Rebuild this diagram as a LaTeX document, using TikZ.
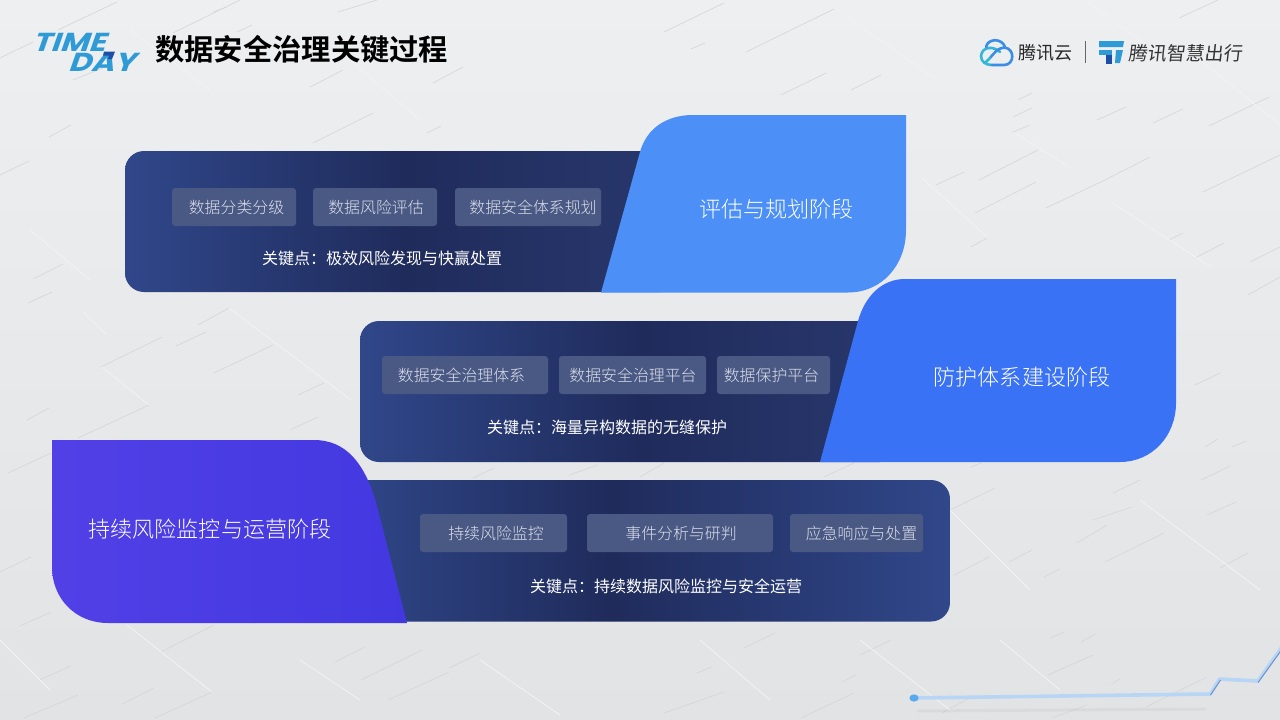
\documentclass[tikz,border=0pt]{standalone}
\usepackage{fontspec}
\usetikzlibrary{calc}
\newfontfamily\cjk{Noto Sans CJK SC}
\newfontfamily\cjkl{Noto Sans CJK SC Light}
\newfontfamily\cjkb{Noto Sans CJK SC Bold}
\newfontfamily\logofont[BoldFont=Poppins Bold]{Poppins}
\definecolor{bgtop}{HTML}{EDEFF1}
\definecolor{bgmid}{HTML}{E9EBED}
\definecolor{bgbot}{HTML}{E2E3E5}
\definecolor{edge}{HTML}{30478A}
\definecolor{deep}{HTML}{1F2B5B}
\definecolor{edgeb}{HTML}{28376C}
\definecolor{chip}{HTML}{4A5884}
\definecolor{chiptext}{HTML}{DDE1EC}
\definecolor{leafa}{HTML}{4B8FF7}
\definecolor{leafb}{HTML}{3A72F6}
\definecolor{leafcl}{HTML}{5140E6}
\definecolor{leafcr}{HTML}{4338E0}
\definecolor{logoblue}{HTML}{2F9BD6}
\definecolor{logodark}{HTML}{1D4FA8}
\definecolor{bgl}{HTML}{D3D5D8}
\definecolor{bgw}{HTML}{F2F3F5}
\definecolor{track}{HTML}{B7D5F5}
\definecolor{dotc}{HTML}{5AA8EE}
\definecolor{cloudt}{HTML}{35B5D8}
\definecolor{cloudb}{HTML}{3A8EE6}
\tikzset{
  x=1pt,y=-1pt,
  chipbox/.style={fill=chip,rounded corners=3pt,text=chiptext,font=\cjkl\fontsize{15.9}{18}\selectfont,anchor=center,inner sep=0pt},
  keytext/.style={text=white,font=\cjk\fontsize{16}{18}\selectfont,inner sep=0pt},
  stagetext/.style={text=white,font=\cjkl\fontsize{22.1}{24}\selectfont,inner sep=0pt},
  bgline/.style={bgl,line width=0.6pt},
  bgwhite/.style={bgw,line width=0.8pt},
  logotext/.style={inner sep=0pt,anchor=north west,align=left,text=logoblue,font=\logofont\bfseries\fontsize{26}{20}\selectfont,xslant=0.35,xscale=1.2},
}
% name, centre x, centre y, width, height, text shift, text
\newcommand{\chipnode}[7]{\node[chipbox,minimum width=#4 pt,minimum height=#5 pt] (#1) at (#2,#3) {\hspace*{#6pt}#7};}
\begin{document}
\begin{tikzpicture}
\useasboundingbox (0,0) rectangle (1280,720);
\shade[top color=bgtop,middle color=bgmid,bottom color=bgbot] (0,0) rectangle (1280,720);
% background tracery
\foreach \a/\b/\c/\d in {
 49/137/71/125, 0/175/29/161, 313/143/373/113, 427/133/441/126, 101/367/162/337, 176/346/206/332,
 33/279/63/264, 28/303/52/292, 214/373/273/345, 290/430/318/417, 298/395/324/383, 27/420/49/408,
 78/438/149/405, 198/325/229/308,
 664/32/724/3, 746/52/834/9, 691/49/705/43, 781/95/826/73, 851/90/881/75, 1179/18/1218/0,
 979/180/1038/150, 975/213/1036/182, 1046/208/1105/180, 1105/180/1150/157, 1097/120/1126/107,
 1153/123/1183/109, 1209/126/1269/97, 1195/258/1224/243, 1169/240/1183/233, 1248/295/1280/277,
 1203/192/1280/155, 936/185/964/172, 971/247/987/238, 1018/100/1032/93, 1013/117/1032/108,
 1013/132/1030/125, 1250/262/1280/247,
 950/510/995/488, 1113/493/1140/480, 1093/520/1132/507, 1077/543/1107/525, 1105/562/1164/533,
 1201/480/1230/466, 1205/447/1218/439, 1232/447/1246/441, 1207/515/1236/502, 1220/568/1248/553,
 1195/385/1220/373, 954/575/989/557, 1009/562/1032/550, 1044/577/1060/569, 1081/642/1095/634,
 1050/638/1064/632, 1111/684/1120/679, 1048/675/1093/655, 860/655/891/640, 744/648/775/633,
 842/682/856/675, 697/673/711/667, 664/713/724/692, 801/718/854/693, 942/713/971/697,
 1052/718/1087/705, 1146/707/1207/677, 824/477/854/463, 640/477/664/463, 971/467/981/463,
 8/473/51/453, 20/626/51/612, 161/652/214/625, 335/662/365/647, 361/680/422/650, 449/668/480/653,
 122/704/154/688, 155/718/212/692, 39/680/71/666, 24/718/78/695, 388/700/449/672, 0/572/31/557,
 569/475/598/465, 473/478/494/468,
 0/58/33/42, 58/30/117/2, 173/33/240/0, 213/12/227/7, 237/32/252/25, 310/87/343/70, 433/83/463/67,
 73/80/110/65, 338/12/377/0}{
 \draw[bgline] (\a,\b) -- (\c,\d);
}
\foreach \a/\b/\c/\d in {
 102/367/149/405, 229/308/351/400, 84/313/106/334, 836/9/934/78, 1111/202/1211/267, 922/178/987/237,
 1085/0/1171/63, 1015/133/1069/167, 127/625/212/692, 1140/500/1260/590, 950/510/1030/590,
 1000/640/1060/690, 300/660/360/700, 480/660/560/715, 1200/60/1280/125,
 130/30/210/90, 350/60/420/120, 30/230/90/280, 0/640/50/690, 700/640/770/700, 860/640/950/710}{
 \draw[bgwhite] (\a,\b) -- (\c,\d);
}
% progress line
\coordinate (ps) at (914,698);
\coordinate (p1) at (1210.5,694);
\coordinate (p2) at (1219.5,679);
\coordinate (p3) at (1258,681);
\coordinate (p4) at (1282,647);
\draw[line width=3pt,black,opacity=.035,line cap=round] (918,711) -- (1205,709);
\draw[line width=3.6pt,track,line join=bevel] (ps) -- (p1) -- (p2) -- (p3) -- (p4);
\draw[line width=.9pt,logodark!65!white] ($(p1)+(0,1)$) -- ($(p2)+(1,1)$) ($(p3)+(0,1.5)$) -- ($(p4)+(0.5,1.5)$);
\fill[dotc] (ps) ellipse (4.6pt and 3.6pt);
% panels
\begin{scope}
 \clip[rounded corners=19pt] (125,151) rectangle (700,292);
 \shade[left color=edge,right color=deep] (125,151) rectangle (405,292);
 \shade[left color=deep,right color=edgeb] (405,151) rectangle (660,292);
\end{scope}
\begin{scope}
 \clip[rounded corners=19pt] (360,321) rectangle (900,462);
 \shade[left color=edge,right color=deep] (360,321) rectangle (640,462);
 \shade[left color=deep,right color=edgeb] (640,321) rectangle (880,462);
\end{scope}
\begin{scope}
 \clip[rounded corners=19pt] (320,480) rectangle (950,621.5);
 \shade[left color=edge,right color=deep] (340,480) rectangle (610,622);
 \shade[left color=deep,right color=edge] (610,480) rectangle (950,622);
\end{scope}
% leaves
\fill[leafa] (906,115) -- (693,115) .. controls (668,115) and (647,127) .. (640,152) -- (601,292.5) -- (848,292.5) .. controls (882,292.5) and (906,265) .. (906,230) -- cycle;
\fill[leafb] (1176,279) -- (905,279) .. controls (882,279) and (865,296) .. (858,321) -- (820,462) -- (1120,462) .. controls (1152,462) and (1176,436) .. (1176,403) -- cycle;
\shade[left color=leafcl,right color=leafcr] (52,440) -- (314,440) .. controls (345,440) and (366,462) .. (378,510) -- (407,623) -- (108,623) .. controls (75,623) and (52,598) .. (52,567) -- cycle;
% chips
\chipnode{a1}{234}{207}{124}{38}{5}{数据分类分级}
\chipnode{a2}{375}{207}{124}{38}{2}{数据风险评估}
\chipnode{a3}{528}{207}{146}{38}{10}{数据安全体系规划}
\chipnode{b1}{465}{375}{166}{38}{-7}{数据安全治理体系}
\chipnode{b2}{632.5}{375}{147}{38}{1}{数据安全治理平台}
\chipnode{b3}{773.5}{375}{113}{38}{-4}{数据保护平台}
\chipnode{c1}{493.5}{533}{147}{38}{5}{持续风险监控}
\chipnode{c2}{680}{533}{186}{38}{2}{事件分析与研判}
\chipnode{c3}{856.5}{533}{133}{38}{10}{应急响应与处置}
% key points
\node[keytext] (ka) at (382,258) {关键点：极效风险发现与快赢处置};
\node[keytext] (kb) at (607,427) {关键点：海量异构数据的无缝保护};
\node[keytext] (kc) at (666,586) {关键点：持续数据风险监控与安全运营};
% stages
\node[stagetext] (sa) at (776.5,209) {评估与规划阶段};
\node[stagetext] (sb) at (1022,377) {防护体系建设阶段};
\node[stagetext] (sc) at (210,529) {持续风险监控与运营阶段};
% title
\node[inner sep=0pt,anchor=west,text=black,font=\cjkb\fontsize{29.3}{32}\selectfont] (title) at (155,49.5) {数据安全治理关键过程};
% logo
\node[logotext] (logo) at (38,33) {TIME\\\hspace*{36pt}DAY};
\fill[logodark] (104,51.5) -- (115,51.5) -- (112,59) -- (108,59) -- (109,55.5) -- (103,55.5) -- cycle;
% tencent cloud mark
\begin{scope}[line width=2.6pt,line cap=round,line join=round]
 \draw[cloudt] (1000,52) .. controls (994,46) and (982,46) .. (981,56) .. controls (981,62) and (986,65) .. (992,65);
 \draw[cloudb] (986,47) .. controls (988,38) and (1002,38) .. (1005,47);
 \draw[cloudb] (992,65) -- (1004,65) .. controls (1015,65) and (1015,48) .. (1004,47.5) .. controls (998,48) and (994,53) .. (990,58);
 \draw[cloudt] (990,58) -- (986,62);
\end{scope}
\node[inner sep=0pt,anchor=west,text=black!85,font=\cjk\fontsize{18}{20}\selectfont] (tc) at (1018,53) {腾讯云};
\draw[black!60,line width=.8pt] (1085,41) -- (1085,63);
\fill[logoblue] (1099,41) -- (1124,41) -- (1123,47) -- (1099,47) -- cycle;
\fill[logoblue] (1099,50) -- (1112,50) -- (1112,54.5) -- (1099,54.5) -- cycle;
\fill[logodark] (1106,54.5) -- (1112,54.5) -- (1112,64) -- (1106,64) -- cycle;
\fill[logoblue] (1116,50) -- (1123,50) -- (1120,63) -- (1115,63) -- cycle;
\node[inner sep=0pt,anchor=west,text=black!80,font=\cjk\fontsize{19}{20}\selectfont,xslant=0.12] (tz) at (1129,53) {腾讯智慧出行};
\end{tikzpicture}
\end{document}
